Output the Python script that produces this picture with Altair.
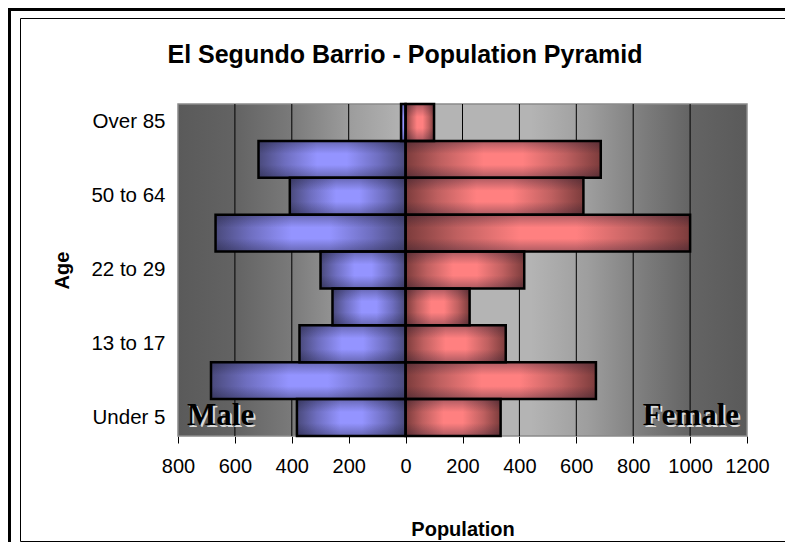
import altair as alt
import pandas as pd

# ---- data ----
ages = ["Under 5", "5 to 12", "13 to 17", "18 to 21", "22 to 29",
        "30 to 49", "50 to 64", "65 to 84", "Over 85"]
male = [382, 684, 373, 257, 299, 668, 407, 517, 16]
female = [334, 669, 352, 225, 417, 1000, 625, 686, 100]
shown_age_labels = ["Under 5", "13 to 17", "22 to 29", "50 to 64", "Over 85"]
x_ticks = [-800, -600, -400, -200, 0, 200, 400, 600, 800, 1000, 1200]
x_domain = [-800, 1200]
annot_labels = ["Male", "Female"]
annot_x = [-768, 1172]
chart_title = "El Segundo Barrio - Population Pyramid"

rows = []
for a, m, f in zip(ages, male, female):
    rows.append({"age": a, "sex": "Male", "pop": -m})
    rows.append({"age": a, "sex": "Female", "pop": f})
df = pd.DataFrame(rows)

annot = pd.DataFrame({"label": annot_labels, "x": annot_x})
grid_df = pd.DataFrame({"pop": x_ticks[1:-1]})

W, H = 569, 332
FONT = "Liberation Sans"

x_enc = alt.X(
    "pop:Q",
    scale=alt.Scale(domain=x_domain, nice=False, zero=False),
    axis=alt.Axis(
        values=x_ticks, labelExpr="abs(datum.value)", title="Population",
        grid=False, domain=False, tickColor="#000000", tickSize=7, tickWidth=1,
        labelFont=FONT, labelFontSize=20, labelColor="#000000", labelPadding=13,
        labelFlush=False, labelOverlap=False,
        titleFont=FONT, titleFontSize=20, titleFontWeight="bold",
        titleColor="#000000", titlePadding=43,
    ),
)
y_enc = alt.Y(
    "age:N",
    sort=ages[::-1],
    scale=alt.Scale(paddingInner=0, paddingOuter=0),
    axis=alt.Axis(
        values=shown_age_labels, title="Age", ticks=False, domain=False,
        labelFont=FONT, labelFontSize=20.5, labelColor="#000000", labelPadding=13,
        titleFont=FONT, titleFontSize=20, titleFontWeight="bold",
        titleColor="#000000", titlePadding=18,
    ),
)


def hgrad(dark, mid, light):
    return alt.LinearGradient(
        gradient="linear", x1=0, x2=1, y1=0, y2=0,
        stops=[
            alt.GradientStop(color=dark, offset=0),
            alt.GradientStop(color=mid, offset=0.18),
            alt.GradientStop(color=light, offset=0.4),
            alt.GradientStop(color=light, offset=0.6),
            alt.GradientStop(color=mid, offset=0.82),
            alt.GradientStop(color=dark, offset=1),
        ],
    )


male_fill = hgrad("#4a4a7c", "#6e6ebf", "#9494ff")
female_fill = hgrad("#7c3c3c", "#bf6060", "#ff8080")
shade = alt.LinearGradient(
    gradient="linear", x1=0, x2=0, y1=0, y2=1,
    stops=[
        alt.GradientStop(color="rgba(20,20,40,0.35)", offset=0),
        alt.GradientStop(color="rgba(20,20,40,0)", offset=0.35),
        alt.GradientStop(color="rgba(20,20,40,0)", offset=0.65),
        alt.GradientStop(color="rgba(20,20,40,0.35)", offset=1),
    ],
)

view_fill = alt.LinearGradient(
    gradient="linear", x1=0, x2=1, y1=0, y2=0,
    stops=[
        alt.GradientStop(color="#5a5a5a", offset=0),
        alt.GradientStop(color="#636363", offset=0.1),
        alt.GradientStop(color="#7a7a7a", offset=0.2),
        alt.GradientStop(color="#9c9c9c", offset=0.3),
        alt.GradientStop(color="#b4b4b4", offset=0.4),
        alt.GradientStop(color="#b4b4b4", offset=0.62),
        alt.GradientStop(color="#9e9e9e", offset=0.72),
        alt.GradientStop(color="#7c7c7c", offset=0.82),
        alt.GradientStop(color="#646464", offset=0.9),
        alt.GradientStop(color="#5a5a5a", offset=1),
    ],
)

one_row = alt.Data(values=[{"f": 1}])
plot_bg = alt.Chart(one_row).mark_rect(
    fill=view_fill, stroke="#8a8a8a", strokeWidth=1.5).encode(
    x=alt.value(0), x2=alt.value(W), y=alt.value(0), y2=alt.value(H))

grid = alt.Chart(grid_df).mark_rule(color="#000000", strokeWidth=1).encode(x=x_enc)

base = alt.Chart(df)
male_bars = base.transform_filter(alt.datum.sex == "Male").mark_bar(
    fill=male_fill, strokeWidth=0).encode(x=x_enc, y=y_enc)
female_bars = base.transform_filter(alt.datum.sex == "Female").mark_bar(
    fill=female_fill, strokeWidth=0).encode(x=x_enc, y=y_enc)
shade_bars = base.mark_bar(fill=shade, strokeWidth=0).encode(x=x_enc, y=y_enc)
outline = base.mark_bar(fillOpacity=0, stroke="#000000", strokeWidth=2.5).encode(
    x=x_enc, y=y_enc)

male_df = annot[annot.label == "Male"]
fem_df = annot[annot.label == "Female"]


def label_layer(d, align, color, shift):
    return alt.Chart(d).mark_text(
        font="Liberation Serif", fontSize=31, fontWeight="bold", color=color,
        baseline="alphabetic", align=align, dx=shift, dy=shift,
    ).encode(x="x:Q", y=alt.value(H - 11), text="label:N")


male_txt_sh = label_layer(male_df, "left", "#dcdcdc", 2)
male_txt = label_layer(male_df, "left", "#000000", 0)
fem_txt_sh = label_layer(fem_df, "right", "#dcdcdc", 2)
fem_txt = label_layer(fem_df, "right", "#000000", 0)

# chart title, centred on the chart area (not the plot area)
title_txt = alt.Chart(alt.Data(values=[{"t": chart_title}])).mark_text(
    font=FONT, fontSize=25, fontWeight="bold", color="#000000",
    align="center", baseline="alphabetic",
).encode(x=alt.value(227), y=alt.value(-41), text="t:N")

# decorative chart-area frames (outside the plot)
outer_frame = alt.Chart(one_row).mark_rect(
    fillOpacity=0, stroke="#000000", strokeWidth=3).encode(
    x=alt.value(-168.5), y=alt.value(-94.5), x2=alt.value(W + 300), y2=alt.value(H + 300))
inner_frame = alt.Chart(one_row).mark_rect(
    fillOpacity=0, stroke="#000000", strokeWidth=1).encode(
    x=alt.value(-157.5), y=alt.value(-85.5), x2=alt.value(W + 250), y2=alt.value(H + 105.5))

chart = alt.layer(
    plot_bg, grid,
    male_bars, female_bars, shade_bars, outline,
    male_txt_sh, male_txt, fem_txt_sh, fem_txt,
    title_txt, outer_frame, inner_frame,
).properties(
    width=W, height=H,
    autosize=alt.AutoSizeParams(type="none"),
    padding={"left": 170, "top": 96, "right": 38, "bottom": 106},
    background="#ffffff",
).configure_view(
    stroke=None,
)

chart.save("out.html", embed_options={"renderer": "svg", "actions": False})
